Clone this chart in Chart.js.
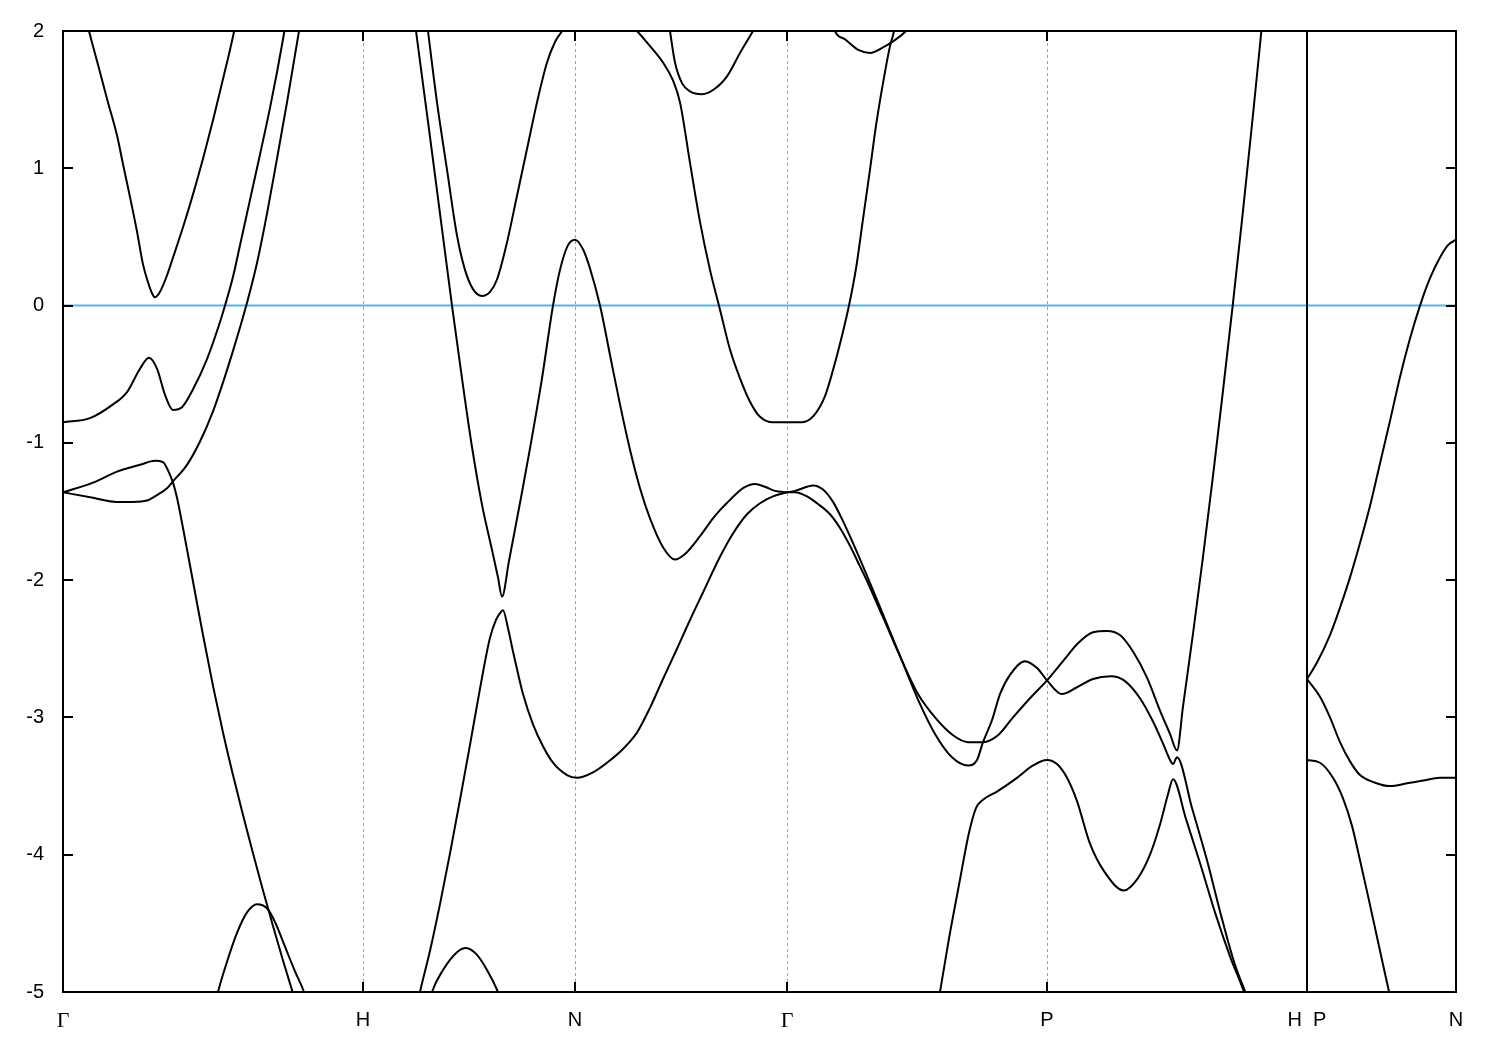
<!DOCTYPE html>
<html><head><meta charset="utf-8">
<script src="https://cdn.jsdelivr.net/npm/chart.js@4.4.1/dist/chart.umd.min.js"></script>
<style>html,body{margin:0;padding:0;background:#fff;} canvas{display:block;}</style>
</head><body>
<canvas id="c" width="1500" height="1050"></canvas>
<script>
// k-path (arbitrary units) and high-symmetry points
const kTicks  = [0, 300, 512, 724, 984, 1244, 1393];
const kLabels = ['Γ', 'H', 'N', 'Γ', 'P', 'H  P', 'N'];
const kBreak  = 1244;
const eMin = -5, eMax = 2, eStep = 1;
const fermiEnergy = 0;

// Bands (energy in eV vs k)
const bandA_k = [21, 26, 37, 45, 54, 60, 65, 74, 80, 85, 89, 92, 97, 104, 110, 120, 130, 140, 150, 157, 164, 170, 174];
const bandA_E = [2.15, 2.0, 1.70, 1.48, 1.24, 1.03, 0.86, 0.54, 0.30, 0.17, 0.09, 0.06, 0.10, 0.22, 0.35, 0.57, 0.81, 1.07, 1.35, 1.56, 1.77, 1.96, 2.10];

const bandB_k = [0, 27, 50, 64, 77, 86, 94, 102, 110, 119, 130, 144, 157, 162, 170, 177, 187, 197, 207, 214, 220, 223];
const bandB_E = [-0.85, -0.82, -0.72, -0.63, -0.46, -0.38, -0.46, -0.65, -0.76, -0.74, -0.61, -0.39, -0.12, 0.0, 0.21, 0.44, 0.77, 1.10, 1.44, 1.70, 1.94, 2.07];

const bandC_k = [0, 30, 54, 77, 92, 100, 105, 110, 114, 120, 130, 140, 150, 160, 170, 180, 190, 200, 210, 220, 230, 234];
const bandC_E = [-1.36, -1.29, -1.21, -1.16, -1.13, -1.14, -1.20, -1.29, -1.40, -1.62, -2.01, -2.40, -2.77, -3.11, -3.42, -3.71, -3.99, -4.26, -4.52, -4.77, -5.01, -5.11];

const bandD_k = [0, 30, 54, 70, 84, 94, 104, 110, 124, 137, 150, 160, 170, 177, 184, 194, 204, 214, 224, 236, 239];
const bandD_E = [-1.36, -1.40, -1.43, -1.43, -1.42, -1.38, -1.33, -1.28, -1.16, -0.99, -0.77, -0.56, -0.33, -0.16, 0.02, 0.31, 0.67, 1.07, 1.48, 2.0, 2.13];

const bandE_k = [152, 155, 164, 174, 184, 194, 204, 212, 222, 232, 241, 243];
const bandE_E = [-5.1, -5.0, -4.78, -4.57, -4.42, -4.36, -4.39, -4.49, -4.67, -4.85, -5.0, -5.05];

const bandF_k = [351, 353, 365, 377, 389, 399, 409, 419, 429, 435, 439, 446, 452, 459, 467, 479, 490, 497, 505, 512, 520, 527, 537, 547, 557, 567, 577, 587, 600, 612, 622, 637, 650, 657, 665, 672, 680, 692, 702, 712, 724];
const bandF_E = [2.12, 2.0, 1.34, 0.67, 0.0, -0.53, -1.03, -1.45, -1.78, -1.98, -2.12, -1.86, -1.63, -1.36, -1.04, -0.53, 0.0, 0.26, 0.44, 0.48, 0.41, 0.27, 0.0, -0.36, -0.72, -1.05, -1.33, -1.55, -1.76, -1.85, -1.81, -1.68, -1.55, -1.49, -1.43, -1.38, -1.33, -1.30, -1.32, -1.35, -1.36];

const bandG_k = [363, 365, 374, 384, 394, 402, 410, 419, 427, 434, 444, 454, 464, 474, 484, 492, 499, 502];
const bandG_E = [2.12, 2.0, 1.48, 0.99, 0.51, 0.26, 0.12, 0.07, 0.10, 0.19, 0.46, 0.80, 1.14, 1.48, 1.77, 1.92, 2.0, 2.04];

const bandH_k = [355, 357, 367, 377, 387, 397, 407, 417, 427, 433, 437, 440, 445, 450, 455, 460, 470, 480, 490, 504, 514, 530, 544, 560, 574, 587, 600, 614, 627, 640, 657, 670, 684, 697, 710, 724];
const bandH_E = [-5.07, -5.0, -4.70, -4.36, -3.99, -3.60, -3.20, -2.79, -2.42, -2.29, -2.24, -2.22, -2.35, -2.52, -2.68, -2.83, -3.05, -3.21, -3.33, -3.42, -3.44, -3.40, -3.33, -3.23, -3.11, -2.93, -2.72, -2.50, -2.29, -2.09, -1.83, -1.66, -1.52, -1.44, -1.39, -1.36];

const bandI_k = [367, 369, 380, 394, 403, 414, 424, 435, 437];
const bandI_E = [-5.06, -5.0, -4.84, -4.71, -4.68, -4.73, -4.84, -5.0, -5.04];

const bandJ_k = [567, 574, 587, 600, 610, 617, 627, 637, 647, 657, 667, 677, 687, 697, 710, 724, 739, 751, 762, 770, 779, 786, 793, 800, 807, 813, 820, 827, 831, 833];
const bandJ_E = [2.05, 2.0, 1.89, 1.77, 1.64, 1.48, 1.04, 0.61, 0.26, -0.03, -0.32, -0.53, -0.70, -0.81, -0.85, -0.85, -0.85, -0.80, -0.66, -0.47, -0.22, 0.0, 0.27, 0.63, 0.99, 1.31, 1.62, 1.89, 2.0, 2.1];

const bandK_k = [605, 607, 612, 619, 627, 639, 650, 664, 677, 690, 693];
const bandK_E = [2.1, 2.0, 1.77, 1.62, 1.56, 1.54, 1.57, 1.67, 1.84, 2.0, 2.04];

const bandL_k = [770, 772, 782, 796, 807, 820, 831, 843, 845];
const bandL_E = [2.06, 2.0, 1.94, 1.86, 1.84, 1.88, 1.93, 2.0, 2.02];

const bandM_k = [724, 732, 744, 750, 760, 770, 780, 790, 803, 820, 838, 855, 872, 889, 905, 914, 920, 929, 937, 947, 962, 974, 984, 999, 1014, 1030, 1048, 1061, 1077, 1090, 1100, 1107, 1110, 1114, 1129, 1144, 1158, 1171, 1185];
const bandM_E = [-1.36, -1.35, -1.32, -1.31, -1.34, -1.43, -1.57, -1.73, -1.95, -2.25, -2.57, -2.87, -3.12, -3.29, -3.35, -3.31, -3.18, -3.02, -2.83, -2.69, -2.59, -2.64, -2.73, -2.83, -2.78, -2.72, -2.70, -2.73, -2.86, -3.03, -3.19, -3.31, -3.34, -3.29, -3.66, -4.04, -4.44, -4.78, -5.05];

const bandN_k = [724, 732, 744, 754, 767, 777, 787, 797, 803, 820, 838, 855, 872, 890, 905, 920, 935, 950, 967, 984, 1000, 1015, 1030, 1044, 1057, 1070, 1084, 1097, 1107, 1114, 1120, 1130, 1140, 1150, 1160, 1170, 1180, 1190, 1197, 1200];
const bandN_E = [-1.36, -1.36, -1.39, -1.44, -1.52, -1.62, -1.75, -1.90, -1.99, -2.27, -2.57, -2.83, -3.00, -3.13, -3.18, -3.18, -3.13, -3.00, -2.86, -2.73, -2.59, -2.46, -2.38, -2.37, -2.40, -2.52, -2.71, -2.95, -3.12, -3.24, -2.92, -2.39, -1.83, -1.24, -0.62, 0.02, 0.69, 1.39, 1.90, 2.12];

const bandO_k = [875, 877, 886, 896, 906, 913, 920, 934, 954, 970, 984, 994, 1004, 1014, 1027, 1041, 1061, 1075, 1087, 1097, 1105, 1110, 1123, 1137, 1152, 1167, 1182, 1184];
const bandO_E = [-5.09, -5.0, -4.61, -4.22, -3.84, -3.66, -3.60, -3.54, -3.44, -3.35, -3.31, -3.34, -3.44, -3.61, -3.92, -4.12, -4.26, -4.17, -4.00, -3.78, -3.56, -3.45, -3.74, -4.06, -4.42, -4.74, -5.02, -5.07];

const bandR_k = [1244, 1254, 1267, 1277, 1287, 1297, 1307, 1317, 1327, 1337, 1347, 1357, 1367, 1377, 1385, 1393];
const bandR_E = [-2.72, -2.60, -2.40, -2.20, -1.98, -1.73, -1.46, -1.15, -0.84, -0.52, -0.24, 0.0, 0.20, 0.35, 0.44, 0.48];

const bandS_k = [1244, 1257, 1267, 1277, 1287, 1297, 1310, 1327, 1344, 1360, 1377, 1393];
const bandS_E = [-2.72, -2.85, -3.00, -3.18, -3.32, -3.42, -3.47, -3.50, -3.48, -3.46, -3.44, -3.44];

const bandT_k = [1244, 1257, 1270, 1280, 1289, 1297, 1305, 1314, 1320, 1327, 1329];
const bandT_E = [-3.31, -3.33, -3.44, -3.59, -3.79, -4.04, -4.30, -4.60, -4.80, -5.03, -5.09];

const bands = [
  [bandA_k, bandA_E], [bandB_k, bandB_E], [bandC_k, bandC_E], [bandD_k, bandD_E],
  [bandE_k, bandE_E], [bandF_k, bandF_E], [bandG_k, bandG_E], [bandH_k, bandH_E],
  [bandI_k, bandI_E], [bandJ_k, bandJ_E], [bandK_k, bandK_E], [bandL_k, bandL_E],
  [bandM_k, bandM_E], [bandN_k, bandN_E], [bandO_k, bandO_E], [bandR_k, bandR_E],
  [bandS_k, bandS_E], [bandT_k, bandT_E]
];

const datasets = bands.map(([ks, es]) => ({
  data: ks.map((k, i) => ({x: k, y: es[i]})),
  showLine: true,
  borderColor: '#000',
  borderWidth: 2,
  pointRadius: 0,
  cubicInterpolationMode: 'monotone',
  clip: 0,
  order: 1
}));
datasets.push({
  data: [{x: kTicks[0], y: fermiEnergy}, {x: kTicks[kTicks.length - 1], y: fermiEnergy}],
  showLine: true,
  borderColor: '#56b4e9',
  borderWidth: 2,
  pointRadius: 0,
  clip: 0,
  order: 2
});

const framePlugin = {
  id: 'frame',
  beforeDatasetsDraw(chart) {
    const {ctx, chartArea: a, scales: {x}} = chart;
    ctx.save();
    ctx.strokeStyle = '#a0a0a0';
    ctx.lineWidth = 1;
    ctx.setLineDash([3, 3]);
    kTicks.forEach((k, i) => {
      if (i === 0 || i === kTicks.length - 1 || k === kBreak) return;
      const px = Math.round(x.getPixelForValue(k)) + 0.5;
      ctx.beginPath(); ctx.moveTo(px, a.top); ctx.lineTo(px, a.bottom); ctx.stroke();
    });
    ctx.restore();
  },
  afterDatasetsDraw(chart) {
    const {ctx, chartArea: a, scales: {x, y}} = chart;
    ctx.save();
    ctx.strokeStyle = '#000';
    ctx.lineWidth = 2;
    ctx.setLineDash([]);
    ctx.beginPath();
    y.ticks.forEach(t => {
      const py = Math.round(y.getPixelForValue(t.value));
      ctx.moveTo(a.left, py); ctx.lineTo(a.left + 10, py);
      ctx.moveTo(a.right, py); ctx.lineTo(a.right - 10, py);
    });
    kTicks.forEach(k => {
      const px = Math.round(x.getPixelForValue(k));
      ctx.moveTo(px, a.top); ctx.lineTo(px, a.top + 10);
      ctx.moveTo(px, a.bottom); ctx.lineTo(px, a.bottom - 10);
    });
    ctx.stroke();
    const bx = Math.round(x.getPixelForValue(kBreak));
    ctx.beginPath(); ctx.moveTo(bx, a.top); ctx.lineTo(bx, a.bottom); ctx.stroke();
    ctx.strokeRect(a.left, a.top, a.right - a.left, a.bottom - a.top);
    ctx.restore();
  }
};

new Chart(document.getElementById('c'), {
  type: 'scatter',
  data: {datasets},
  options: {
    responsive: false,
    animation: false,
    devicePixelRatio: 1,
    events: [],
    layout: {padding: {top: 28, right: 44, left: 0, bottom: 0}},
    plugins: {legend: {display: false}, tooltip: {enabled: false}},
    scales: {
      x: {
        type: 'linear', min: kTicks[0], max: kTicks[kTicks.length - 1],
        grid: {display: false, drawTicks: false}, border: {display: false},
        afterBuildTicks: s => { s.ticks = kTicks.map(v => ({value: v})); },
        afterFit: s => { s.height = 58; },
        ticks: {
          autoSkip: false, maxRotation: 0, padding: 16, color: '#000',
          callback: v => kLabels[kTicks.indexOf(v)],
          font: c => (kLabels[c.index] === 'Γ'
            ? {family: '"Liberation Serif", "DejaVu Serif", serif', size: 22}
            : {family: '"Liberation Sans", Arial, sans-serif', size: 20})
        }
      },
      y: {
        min: eMin, max: eMax,
        grid: {display: false, drawTicks: false}, border: {display: false},
        afterFit: s => { s.width = 63; },
        ticks: {
          stepSize: eStep, padding: 19, color: '#000',
          font: {family: '"Liberation Sans", Arial, sans-serif', size: 20},
          callback: v => String(v)
        }
      }
    }
  },
  plugins: [framePlugin]
});
</script>
</body></html>
